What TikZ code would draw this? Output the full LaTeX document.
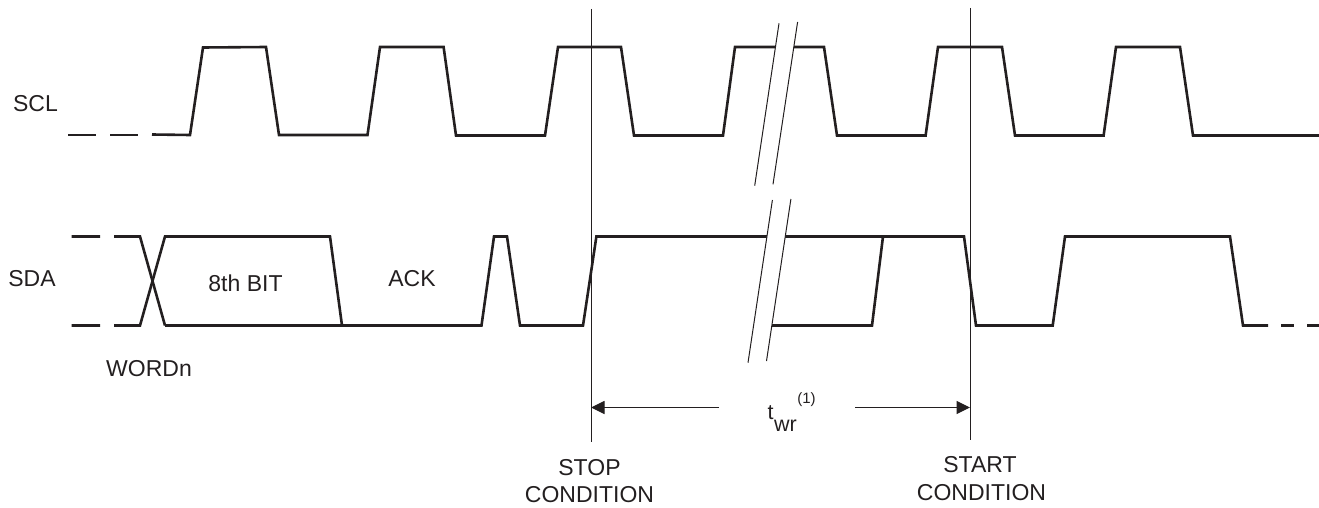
\documentclass[tikz,border=0pt]{standalone}
\usepackage{fontspec}
\setmainfont{Liberation Sans}
\usetikzlibrary{arrows.meta}
\definecolor{ink}{HTML}{231F20}
\tikzset{
  sig/.style={draw=ink,line width=2.6pt,line join=miter,line cap=butt},
  thin line/.style={draw=ink,line width=1pt},
  dimline/.style={draw=ink,line width=1pt,-{Triangle[length=13.5pt,width=13pt]}},
  lab/.style={anchor=base,inner sep=0pt,outer sep=0pt,text=ink,font=\fontsize{23}{24}\selectfont},
  sub lab/.style={anchor=base,inner sep=0pt,outer sep=0pt,text=ink,font=\fontsize{21.5}{22}\selectfont},
  small lab/.style={anchor=base,inner sep=0pt,outer sep=0pt,text=ink,font=\fontsize{15}{16}\selectfont},
}
\begin{document}
\begin{tikzpicture}[x=1pt,y=-1pt]
\useasboundingbox (0,0) rectangle (1319,508);
% SCL
\draw[sig] (68,135)--(96,135) (110,135)--(138,135);
\draw[sig] (152,134.5)--(190,135)--(203,47.5)--(266,47)--(279,135)--(367.5,135)--(380,47)--(443.6,47)--(456,135.5)--(545,135.5)--(558,47)--(621,47)--(634,135.5)--(723,135.5)--(735,47)--(824,47)--(837,135.5)--(925.6,135.5)--(938,47)--(1002,47)--(1015,135.5)--(1103.6,135.5)--(1116,47)--(1180,47)--(1193,135.5)--(1319,135.5);
% SDA
\draw[sig] (71.5,236.5)--(100,236.5) (114,236.5)--(140,236.5)--(165,325.5);
\draw[sig] (71.5,325.5)--(100,325.5) (114,325.5)--(140,325.5)--(165,236.5)--(330,236.5)--(342,325.5);
\draw[sig] (165,325.5)--(481.5,325.5)--(494,236.5)--(507,236.5)--(520,325.5)--(583,325.5)--(596.4,236.5)--(964,236.5)--(976,325.5)--(1052.7,325.5)--(1065,236.5)--(1230,236.5)--(1243,325.5)--(1268,325.5);
\draw[sig] (1281,325.5)--(1294,325.5) (1307,325.5)--(1319,325.5);
\draw[sig] (772,325.5)--(872,325.5)--(883,236.5);
% break marks
\fill[white] (779,23.3)--(754.7,185.7)--(773,184.3)--(797.6,22)--cycle;
\fill[white] (772.4,200)--(748,362.7)--(766.5,361)--(790.9,199)--cycle;
\draw[thin line] (779,23.3)--(754.7,185.7) (797.6,22)--(773,184.3);
\draw[thin line] (772.4,200)--(748,362.7) (790.9,199)--(766.5,361);
% condition lines
\coordinate (stopT) at (591,9);
\coordinate (stopB) at (591,441.7);
\coordinate (startT) at (970,8);
\coordinate (startB) at (970,440);
\draw[thin line] (stopT)--(stopB);
\draw[thin line] (startT)--(startB);
% dimension
\coordinate (stopA) at (591,407.5);
\coordinate (leftE) at (719,407.5);
\coordinate (rightE) at (855,407.5);
\coordinate (startA) at (970,407.5);
\draw[dimline] (leftE)--(stopA);
\draw[dimline] (rightE)--(startA);
% labels
\node[lab] (scl) at (35.5,111.5) {SCL};
\node[lab] (sda) at (32,286.5) {SDA};
\node[lab] (bit) at (245.5,291.5) {8th BIT};
\node[lab] (ack) at (412,286.5) {ACK};
\node[lab] (word) at (149,376) {WORDn};
\node[lab] (stop) at (589.5,475) {STOP};
\node[lab] (stopc) at (589.5,502.7) {CONDITION};
\node[lab] (start) at (980,472) {START};
\node[lab] (startc) at (981.5,500.7) {CONDITION};
\node[sub lab] (t) at (770.5,419.5) {t};
\node[sub lab] (wr) at (785.5,431) {wr};
\node[small lab] (note) at (806.5,403.5) {(1)};
\end{tikzpicture}
\end{document}
